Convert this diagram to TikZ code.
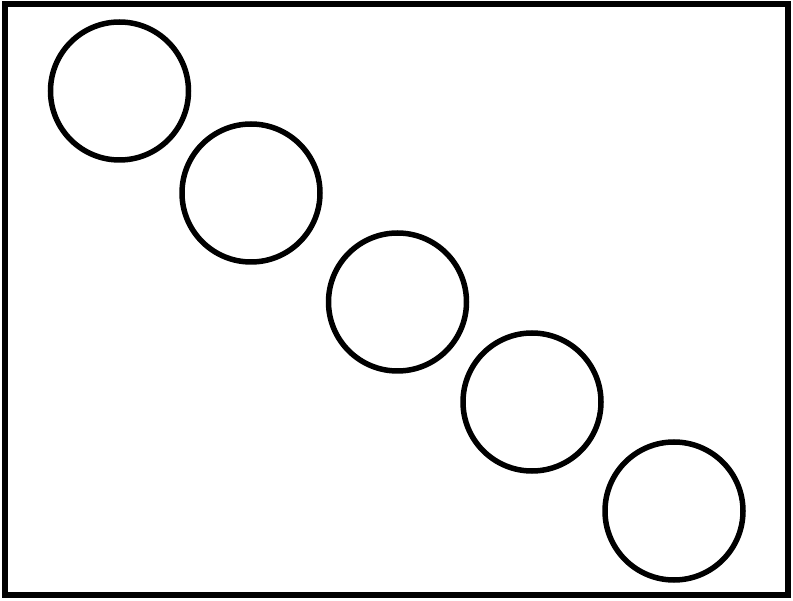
\documentclass[tikz,border=0pt]{standalone}
\begin{document}
\begin{tikzpicture}[x=1pt,y=-1pt,
  ring/.style={circle,draw=black,line width=5.5pt,minimum size=138pt,inner sep=0pt},
  frame/.style={draw=black,line width=5.5pt}]
\useasboundingbox (0,0) rectangle (793,601);
\draw[frame] (5,4) rectangle (788,595);
\node[ring] (c1) at (119.5,91) {};
\node[ring] (c2) at (251,193) {};
\node[ring] (c3) at (397.5,302) {};
\node[ring] (c4) at (532,402) {};
\node[ring] (c5) at (674,511) {};
\end{tikzpicture}
\end{document}
